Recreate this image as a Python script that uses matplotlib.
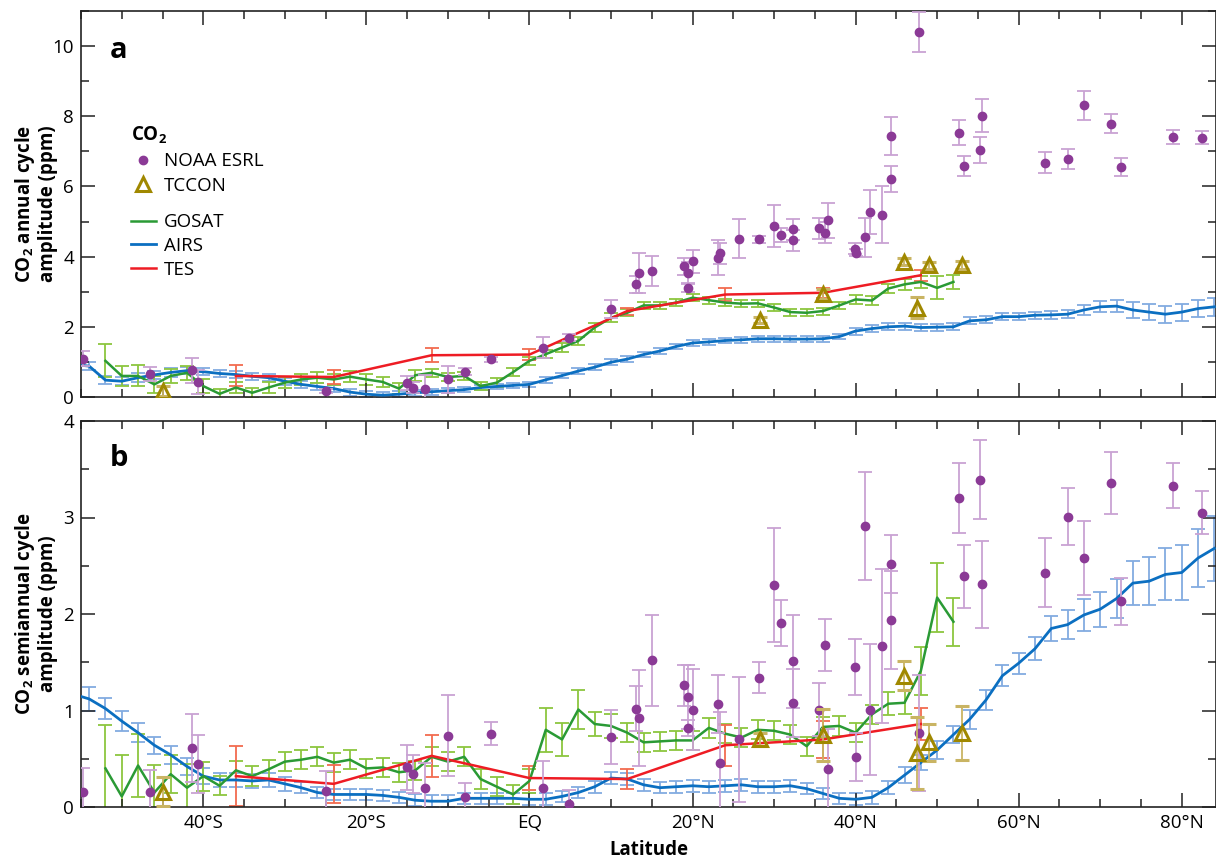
import matplotlib
matplotlib.use("Agg")
import matplotlib.pyplot as plt
from matplotlib.lines import Line2D
from matplotlib.ticker import MultipleLocator, FixedLocator, FixedFormatter

plt.rcParams['font.family'] = ['Open Sans', 'DejaVu Sans']
plt.rcParams['mathtext.default'] = 'regular'

# ---- data ----
airs_lat = [-56, -54, -52, -50, -48, -46, -44, -42, -40, -38, -36, -34, -32, -30, -28, -26,
            -24, -22, -20, -18, -16, -14, -12, -10, -8, -6, -4, -2, 0, 2, 4, 6, 8, 10, 12,
            14, 16, 18, 20, 22, 24, 26, 28, 30, 32, 34, 36, 38, 40, 42, 44, 46, 48, 50, 52,
            54, 56, 58, 60, 62, 64, 66, 68, 70, 72, 74, 76, 78, 80, 82, 84]
airs_annual = [0.93, 0.88, 0.48, 0.45, 0.55, 0.63, 0.70, 0.75, 0.72, 0.67, 0.64, 0.59, 0.55,
               0.45, 0.36, 0.30, 0.24, 0.14, 0.08, 0.05, 0.08, 0.12, 0.15, 0.18, 0.21, 0.27,
               0.30, 0.33, 0.36, 0.49, 0.61, 0.74, 0.85, 0.99, 1.08, 1.21, 1.31, 1.44, 1.54,
               1.57, 1.61, 1.63, 1.66, 1.66, 1.65, 1.65, 1.66, 1.72, 1.88, 1.95, 2.00, 2.02,
               1.98, 1.99, 2.00, 2.17, 2.20, 2.29, 2.29, 2.33, 2.34, 2.36, 2.48, 2.57, 2.59,
               2.48, 2.42, 2.36, 2.42, 2.52, 2.57]
airs_annual_err = [0.12, 0.12, 0.12, 0.12, 0.12, 0.12, 0.12, 0.1, 0.1, 0.1, 0.1, 0.1, 0.1,
                   0.1, 0.1, 0.1, 0.1, 0.1, 0.08, 0.08, 0.08, 0.08, 0.08, 0.08, 0.08, 0.08,
                   0.08, 0.08, 0.08, 0.08, 0.08, 0.08, 0.08, 0.08, 0.08, 0.08, 0.08, 0.08, 0.08,
                   0.08, 0.08, 0.08, 0.08, 0.08, 0.08, 0.08, 0.08, 0.08, 0.1, 0.1, 0.1, 0.1,
                   0.1, 0.1, 0.1, 0.1, 0.1, 0.1, 0.1, 0.1, 0.12, 0.12, 0.14, 0.16, 0.18,
                   0.22, 0.22, 0.24, 0.24, 0.24, 0.26]
airs_semi = [1.17, 1.12, 1.02, 0.89, 0.77, 0.64, 0.54, 0.42, 0.32, 0.28, 0.28, 0.27, 0.28,
             0.24, 0.20, 0.15, 0.13, 0.13, 0.13, 0.12, 0.10, 0.07, 0.06, 0.06, 0.09, 0.09,
             0.09, 0.09, 0.08, 0.08, 0.11, 0.15, 0.21, 0.30, 0.29, 0.23, 0.20, 0.21, 0.22,
             0.21, 0.22, 0.23, 0.21, 0.21, 0.22, 0.19, 0.14, 0.09, 0.08, 0.10, 0.20, 0.33,
             0.46, 0.59, 0.75, 0.91, 1.11, 1.36, 1.49, 1.64, 1.85, 1.89, 1.99, 2.05, 2.16,
             2.32, 2.34, 2.41, 2.43, 2.58, 2.68]
airs_semi_err = [0.12, 0.12, 0.11, 0.1, 0.1, 0.09, 0.09, 0.09, 0.08, 0.07, 0.07, 0.07, 0.07,
                 0.07, 0.06, 0.06, 0.06, 0.06, 0.06, 0.06, 0.06, 0.06, 0.06, 0.06, 0.06, 0.06,
                 0.06, 0.06, 0.06, 0.06, 0.06, 0.06, 0.06, 0.06, 0.06, 0.06, 0.06, 0.06, 0.06,
                 0.06, 0.06, 0.06, 0.06, 0.06, 0.06, 0.06, 0.06, 0.06, 0.06, 0.07, 0.07, 0.08,
                 0.08, 0.09, 0.09, 0.1, 0.1, 0.11, 0.11, 0.12, 0.13, 0.15, 0.17, 0.18, 0.2,
                 0.23, 0.25, 0.27, 0.28, 0.3, 0.34]

gosat_lat = [-52, -50, -48, -46, -44, -42, -40, -38, -36, -34, -32, -30, -28, -26, -24, -22,
             -20, -18, -16, -14, -12, -10, -8, -6, -4, -2, 0, 2, 4, 6, 8, 10, 12, 14, 16, 18,
             20, 22, 24, 26, 28, 30, 32, 34, 36, 38, 40, 42, 44, 46, 48, 50, 52]
gosat_annual = [1.03, 0.60, 0.60, 0.36, 0.60, 0.69, 0.31, 0.09, 0.27, 0.12, 0.27, 0.41, 0.50,
                0.55, 0.50, 0.58, 0.50, 0.43, 0.24, 0.62, 0.69, 0.57, 0.60, 0.31, 0.41, 0.71,
                1.03, 1.22, 1.41, 1.60, 1.98, 2.26, 2.40, 2.61, 2.61, 2.69, 2.83, 2.76, 2.69,
                2.66, 2.67, 2.55, 2.42, 2.40, 2.45, 2.61, 2.78, 2.75, 3.09, 3.21, 3.28, 3.11,
                3.28]
gosat_annual_err = [0.47, 0.28, 0.3, 0.25, 0.2, 0.2, 0.2, 0.15, 0.15, 0.15, 0.15, 0.15, 0.15,
                    0.15, 0.15, 0.15, 0.15, 0.15, 0.15, 0.15, 0.12, 0.12, 0.12, 0.12, 0.12,
                    0.12, 0.12, 0.12, 0.12, 0.12, 0.12, 0.12, 0.1, 0.1, 0.1, 0.1, 0.1, 0.1,
                    0.1, 0.1, 0.1, 0.1, 0.1, 0.1, 0.1, 0.1, 0.12, 0.12, 0.12, 0.15, 0.18,
                    0.33, 0.2]
gosat_semi = [0.40, 0.11, 0.43, 0.15, 0.34, 0.20, 0.32, 0.22, 0.38, 0.32, 0.39, 0.47, 0.49,
              0.52, 0.46, 0.49, 0.40, 0.41, 0.36, 0.38, 0.52, 0.47, 0.52, 0.29, 0.21, 0.13,
              0.27, 0.80, 0.70, 1.01, 0.86, 0.84, 0.77, 0.67, 0.68, 0.69, 0.69, 0.82, 0.76,
              0.72, 0.80, 0.79, 0.75, 0.63, 0.83, 0.84, 0.77, 0.96, 1.07, 1.08, 1.41, 2.17,
              1.92]
gosat_semi_err = [0.45, 0.43, 0.33, 0.29, 0.2, 0.25, 0.15, 0.1, 0.1, 0.1, 0.1, 0.1, 0.1, 0.1,
                  0.1, 0.1, 0.1, 0.1, 0.1, 0.1, 0.1, 0.1, 0.1, 0.1, 0.1, 0.1, 0.12, 0.23,
                  0.17, 0.2, 0.12, 0.12, 0.1, 0.1, 0.1, 0.1, 0.1, 0.1, 0.1, 0.1, 0.1, 0.1,
                  0.1, 0.1, 0.1, 0.1, 0.1, 0.1, 0.12, 0.12, 0.25, 0.36, 0.25]

tes_lat = [-36, -24, -12, 0, 12, 24, 36, 48]
tes_annual = [0.60, 0.57, 1.19, 1.21, 2.45, 2.92, 2.97, 3.47]
tes_annual_err = [0.3, 0.2, 0.2, 0.15, 0.1, 0.18, 0.15, 0.16]
tes_semi = [0.32, 0.24, 0.53, 0.30, 0.29, 0.64, 0.70, 0.86]
tes_semi_err = [0.31, 0.2, 0.22, 0.12, 0.1, 0.21, 0.19, 0.17]

tccon_lat = [-45.0, 28.3, 36.0, 45.9, 47.5, 49.0, 53.1]
tccon_annual = [0.17, 2.19, 2.94, 3.85, 2.55, 3.76, 3.76]
tccon_annual_err = [0.15, 0.08, 0.15, 0.1, 0.3, 0.1, 0.12]
tccon_semi = [0.16, 0.70, 0.75, 1.36, 0.56, 0.67, 0.77]
tccon_semi_err = [0.15, 0.07, 0.27, 0.15, 0.37, 0.19, 0.28]

noaa_lat = [-54.8, -46.5, -41.4, -40.7, -25.0, -15.0, -14.3, -12.8, -10.0, -7.9, -4.7, 1.7,
            4.9, 10.0, 13.1, 13.4, 15.0, 19.0, 19.5, 19.5, 20.1, 23.1, 23.4, 25.7, 28.2, 30.0,
            30.8, 32.3, 32.3, 35.5, 36.2, 36.6, 39.9, 40.0, 41.1, 41.8, 43.2, 44.4, 44.4, 47.8,
            52.7, 53.3, 55.2, 55.5, 63.2, 66.0, 68.0, 71.3, 72.6, 78.9, 82.5]
noaa_annual = [1.09, 0.66, 0.76, 0.43, 0.17, 0.39, 0.27, 0.24, 0.50, 0.72, 1.07, 1.41, 1.69,
               2.50, 3.21, 3.54, 3.59, 3.73, 3.54, 3.10, 3.87, 3.97, 4.09, 4.51, 4.49, 4.87,
               4.62, 4.78, 4.47, 4.81, 4.68, 5.03, 4.23, 4.11, 4.55, 5.27, 5.20, 6.22, 7.44,
               10.41, 7.53, 6.58, 7.04, 8.02, 6.68, 6.79, 8.31, 7.79, 6.55, 7.42, 7.39]
noaa_annual_err = [0.22, 0.2, 0.35, 0.35, 0.05, 0.2, 0.15, 0.38, 0.38, 0.1, 0.07, 0.3, 0.1,
                   0.25, 0.25, 0.57, 0.43, 0.24, 0.3, 0.12, 0.33, 0.5, 0.3, 0.55, 0.1, 0.6,
                   0.2, 0.3, 0.3, 0.3, 0.3, 0.5, 0.15, 0.1, 0.56, 0.63, 0.8, 0.37, 0.53, 0.57,
                   0.36, 0.28, 0.38, 0.46, 0.3, 0.28, 0.41, 0.28, 0.25, 0.2, 0.18]
noaa_semi = [0.16, 0.16, 0.61, 0.45, 0.17, 0.41, 0.34, 0.20, 0.74, 0.10, 0.76, 0.20, 0.03,
             0.73, 1.02, 0.92, 1.52, 1.26, 1.14, 0.82, 1.01, 1.07, 0.46, 0.70, 1.34, 2.30,
             1.91, 1.51, 1.08, 1.01, 1.68, 0.39, 1.45, 0.52, 2.91, 1.01, 1.67, 2.52, 1.94,
             0.77, 3.20, 2.39, 3.39, 2.31, 2.43, 3.01, 2.58, 3.36, 2.13, 3.33, 3.05]
noaa_semi_err = [0.24, 0.22, 0.35, 0.3, 0.2, 0.23, 0.2, 0.26, 0.42, 0.15, 0.12, 0.28, 0.15,
                 0.28, 0.23, 0.5, 0.47, 0.21, 0.33, 0.08, 0.42, 0.3, 0.52, 0.65, 0.16, 0.59,
                 0.24, 0.48, 0.35, 0.27, 0.27, 0.42, 0.29, 0.25, 0.56, 0.68, 0.8, 0.3, 0.51,
                 0.6, 0.36, 0.33, 0.41, 0.45, 0.36, 0.3, 0.38, 0.32, 0.24, 0.23, 0.22]

lat_ticks = [-40, -20, 0, 20, 40, 60, 80]
lat_labels = ['40°S', '20°S', 'EQ', '20°N', '40°N', '60°N', '80°N']

# colours
purple, purple_err = '#8B3A96', '#C9A2D3'
olive, olive_err = '#A08800', '#C9B463'
green, green_err = '#2A9A35', '#8CC63F'
blue, blue_err = '#0B6FC1', '#82ABE0'
red, red_err = '#EE1C24', '#F26B4F'


def draw_panel(ax, airs, airs_e, gosat, gosat_e, tes, tes_e, tccon, tccon_e, noaa, noaa_e):
    eb = dict(fmt='none', elinewidth=1.3, capsize=5, capthick=1.3, zorder=1)
    ax.errorbar(airs_lat, airs, yerr=airs_e, ecolor=blue_err, **eb)
    ax.errorbar(gosat_lat, gosat, yerr=gosat_e, ecolor=green_err, **eb)
    ax.errorbar(tes_lat, tes, yerr=tes_e, ecolor=red_err, **eb)
    ax.plot(airs_lat, airs, color=blue, lw=2, zorder=3)
    ax.plot(gosat_lat, gosat, color=green, lw=1.8, zorder=3)
    ax.plot(tes_lat, tes, color=red, lw=1.8, zorder=3)
    ax.errorbar(noaa_lat, noaa, yerr=noaa_e, fmt='o', color=purple, ms=6,
                ecolor=purple_err, elinewidth=1.3, capsize=5, capthick=1.3, zorder=4)
    ax.errorbar(tccon_lat, tccon, yerr=tccon_e, fmt='^', mfc='none', mec=olive, mew=2.2,
                ms=10, ecolor=olive_err, elinewidth=1.3, capsize=5, capthick=1.3, zorder=5)

    ax.set_xlim(-55, 84.2)
    ax.xaxis.set_major_locator(MultipleLocator(20))
    ax.xaxis.set_minor_locator(MultipleLocator(5))
    ax.tick_params(which='both', direction='in', top=True, right=True, labelsize=13.5,
                   width=1.1, color='#222222', pad=5)
    ax.tick_params(which='major', length=10)
    ax.tick_params(which='minor', length=6)
    for s in ax.spines.values():
        s.set_linewidth(1.2)
        s.set_color('#222222')


fig = plt.figure(figsize=(12.16, 8.58), dpi=100)
ax_a = fig.add_axes([81 / 1216, 1 - 397 / 858, 1135 / 1216, 386 / 858])
ax_b = fig.add_axes([81 / 1216, 1 - 807 / 858, 1135 / 1216, 386 / 858])

draw_panel(ax_a, airs_annual, airs_annual_err, gosat_annual, gosat_annual_err,
           tes_annual, tes_annual_err, tccon_annual, tccon_annual_err,
           noaa_annual, noaa_annual_err)
draw_panel(ax_b, airs_semi, airs_semi_err, gosat_semi, gosat_semi_err,
           tes_semi, tes_semi_err, tccon_semi, tccon_semi_err,
           noaa_semi, noaa_semi_err)

ax_a.set_ylim(0, 11)
ax_a.yaxis.set_major_locator(MultipleLocator(2))
ax_a.yaxis.set_minor_locator(MultipleLocator(1))
ax_a.set_xticklabels([])
ax_a.set_ylabel('CO$_2$ annual cycle\namplitude (ppm)', fontsize=13.5, fontweight='bold',
                linespacing=1.1)
ax_a.yaxis.set_label_coords(-0.02, 0.5)

ax_b.set_ylim(0, 4)
ax_b.yaxis.set_major_locator(MultipleLocator(1))
ax_b.yaxis.set_minor_locator(MultipleLocator(0.5))
ax_b.xaxis.set_major_locator(FixedLocator(lat_ticks))
ax_b.xaxis.set_major_formatter(FixedFormatter(lat_labels))
ax_b.set_ylabel('CO$_2$ semiannual cycle\namplitude (ppm)', fontsize=13.5, fontweight='bold',
                linespacing=1.1)
ax_b.yaxis.set_label_coords(-0.02, 0.5)
ax_b.set_xlabel('Latitude', fontsize=13.5, fontweight='bold', labelpad=6)

ax_a.text(0.025, 0.878, 'a', transform=ax_a.transAxes, fontsize=21, fontweight='bold')
ax_b.text(0.025, 0.883, 'b', transform=ax_b.transAxes, fontsize=21, fontweight='bold')

# legend: site data, then satellite retrievals
h_sites = [Line2D([], [], ls='none', marker='o', color=purple, ms=6),
           Line2D([], [], ls='none', marker='^', mfc='none', mec=olive, mew=2.2, ms=10)]
leg1 = ax_a.legend(h_sites, ['NOAA ESRL', 'TCCON'], loc='upper left',
                   bbox_to_anchor=(0.036, 0.73), frameon=False, fontsize=13.5,
                   handlelength=1.3, handletextpad=0.45, labelspacing=0.34, borderpad=0,
                   title='CO$_2$', alignment='left',
                   title_fontproperties={'weight': 'bold', 'size': 13.5})
ax_a.add_artist(leg1)
h_sats = [Line2D([], [], color=green, lw=1.8), Line2D([], [], color=blue, lw=2),
          Line2D([], [], color=red, lw=1.8)]
ax_a.legend(h_sats, ['GOSAT', 'AIRS', 'TES'], loc='upper left',
            bbox_to_anchor=(0.036, 0.5), frameon=False, fontsize=13.5,
            handlelength=1.3, handletextpad=0.45, labelspacing=0.3, borderpad=0)

fig.savefig('out.png', dpi=100)
